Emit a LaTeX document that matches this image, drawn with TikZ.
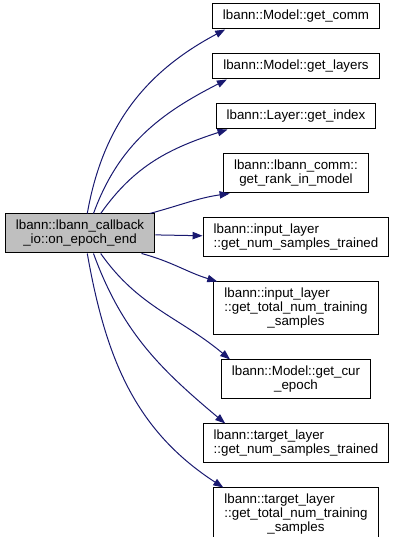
\documentclass[tikz,border=0pt]{standalone}
\usepackage{fontspec}
\setmainfont{Liberation Sans}
\usetikzlibrary{positioning, arrows.meta}

\definecolor{callblue}{RGB}{25,25,112}
\definecolor{rootgray}{RGB}{191,191,191}

\begin{document}
\begin{tikzpicture}[x=0.75pt, y=0.75pt, ->, >={Triangle[length=7.5pt, width=5.5pt]},
    node distance=18pt, line width=0.75pt,
    fn/.style={draw=black, rectangle, font=\fontsize{10pt}{10.5pt}\selectfont,
      inner xsep=8pt, inner ysep=0pt, minimum height=18.75pt},
    fn2/.style={fn, minimum height=29.25pt},
    fn3/.style={fn, minimum height=39.75pt},
    call/.style={every edge/.style={draw=callblue, line width=0.75pt}}]
    \useasboundingbox (0,0) rectangle (394,537);

    \node[fn2, fill=rootgray, align=center] (cb) at (80,303.5) {lbann::lbann\_callback\\\_io::on\_epoch\_end};

    \node[fn] (getcomm) at (296,520.5) {lbann::Model::get\_comm};
    \node[fn] (getlayers) [below=of getcomm] {lbann::Model::get\_layers};
    \node[fn] (getindex) [below=of getlayers] {lbann::Layer::get\_index};
    \node[fn2, align=center] (getrank) [below=of getindex] {lbann::lbann\_comm::\\get\_rank\_in\_model};
    \node[fn2, align=left] (insamples) [below=of getrank] {lbann::input\_layer\\::get\_num\_samples\_trained};
    \node[fn3, align=left] (intotal) [below=of insamples] {lbann::input\_layer\\::get\_total\_num\_training\\\hfil\_samples};
    \node[fn2, align=center] (curepoch) [below=of intotal] {lbann::Model::get\_cur\\\_epoch};
    \node[fn2, align=left] (tgtsamples) [below=of curepoch] {lbann::target\_layer\\::get\_num\_samples\_trained};
    \node[fn3, align=left] (tgttotal) [below=of tgtsamples] {lbann::target\_layer\\::get\_total\_num\_training\\\hfil\_samples};

    \path[call] (cb.70) edge [out=80, in=208] ([xshift=10pt]getcomm.south west)
          (cb.56) edge [out=70, in=207] ([xshift=11pt]getlayers.south west)
          (cb.44) edge [out=55, in=198] ([xshift=9pt]getindex.south west)
          (cb.16) edge [out=15, in=188] ([xshift=5pt]getrank.south west)
          (cb) edge (insamples)
          (cb.-18) edge [out=-15, in=163] ([xshift=3pt]intotal.north west)
          (cb.-44) edge [out=-55, in=140] ([xshift=7pt]curepoch.north west)
          (cb.-56) edge [out=-70, in=140] ([xshift=17pt]tgtsamples.north west)
          (cb.-70) edge [out=-80, in=147] ([xshift=7.5pt]tgttotal.north west);
  \end{tikzpicture}
\end{document}
